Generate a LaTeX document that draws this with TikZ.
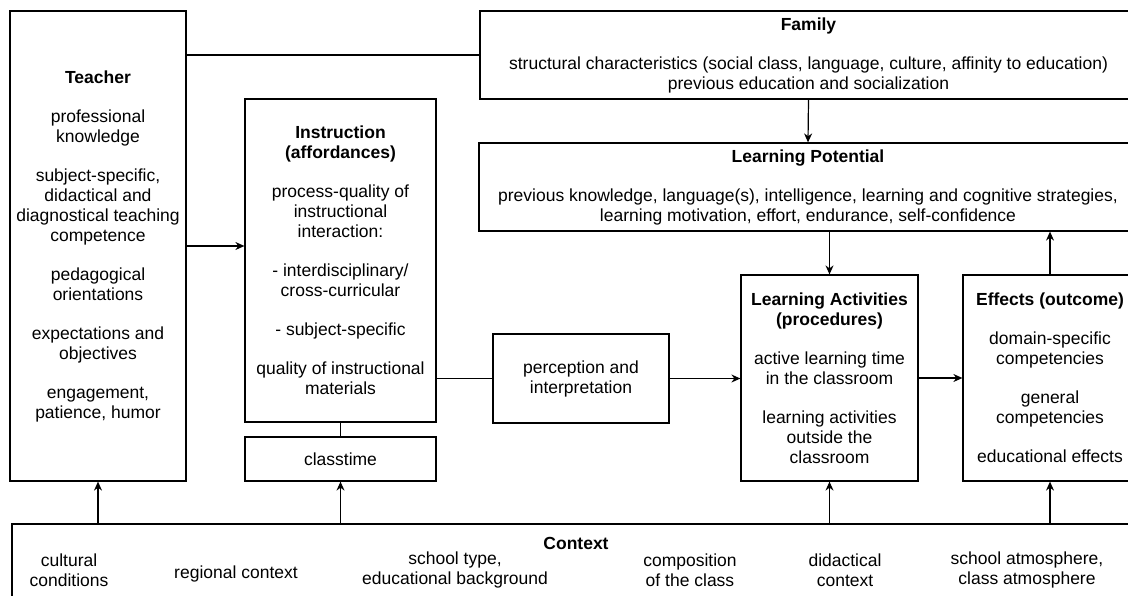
\documentclass[tikz,border=0pt]{standalone}
\usepackage{fontspec}
\setmainfont{Liberation Sans}
\usetikzlibrary{arrows.meta}
\begin{document}
\begin{tikzpicture}[x=1pt,y=-1pt,
  box/.style={draw,line width=1.2pt,inner sep=0pt,align=center,font=\fontsize{17.5}{20}\selectfont},
  arr/.style={line width=1.2pt,-{Stealth[length=9pt,width=8pt]}},
  ln/.style={line width=1.2pt},
  txt/.style={inner sep=0pt,align=center,font=\fontsize{17.5}{20}\selectfont}]
\useasboundingbox (0,0) rectangle (1128,595);
\clip (0,0) rectangle (1128,595);
\node[box,minimum width=176pt,minimum height=470pt] (teacher) at (98,246)
  {\textbf{Teacher}\\[19pt]
   professional\\knowledge\\[19pt]
   subject-specific,\\didactical and\\diagnostical teaching\\competence\\[19pt]
   pedagogical\\orientations\\[19pt]
   expectations and\\objectives\\[19pt]
   engagement,\\patience, humor};
\node[box,minimum width=657pt,minimum height=88pt] (family) at (808.5,55)
  {\textbf{Family}\\[19pt]
   structural characteristics (social class, language, culture, affinity to education)\\
   previous education and socialization};
\node[box,minimum width=658pt,minimum height=88pt] (lp) at (808,187)
  {\textbf{Learning Potential}\\[19pt]
   previous knowledge, language(s), intelligence, learning and cognitive strategies,\\
   learning motivation, effort, endurance, self-confidence};
\node[box,minimum width=191pt,minimum height=323pt] (instr) at (340.5,260.5)
  {\textbf{Instruction}\\\textbf{(affordances)}\\[19pt]
   process-quality of\\instructional\\interaction:\\[19pt]
   - interdisciplinary/\\cross-curricular\\[19pt]
   - subject-specific\\[19pt]
   quality of instructional\\materials};
\node[box,minimum width=191pt,minimum height=44pt] (classtime) at (340.5,459) {classtime};
\node[box,minimum width=176pt,minimum height=89pt] (perc) at (581,378.5)
  {perception and\\interpretation};
\node[box,minimum width=177pt,minimum height=206pt] (la) at (829.5,378)
  {\textbf{Learning Activities}\\\textbf{(procedures)}\\[19pt]
   active learning time\\in the classroom\\[19pt]
   learning activities\\outside the\\classroom};
\node[box,minimum width=174pt,minimum height=206pt] (eff) at (1050,378)
  {\textbf{Effects (outcome)}\\[19pt]
   domain-specific\\competencies\\[19pt]
   general\\competencies\\[19pt]
   educational effects};
\node[draw,line width=1.2pt,inner sep=0pt,minimum width=1128pt,minimum height=96pt] (context) at (576,572) {};
\node[txt] (ctitle) at (576,543) {\textbf{Context}};
\node[txt] (c1) at (69,570) {cultural\\conditions};
\node[txt] (c2) at (236,574) {regional context};
\node[txt] (c3) at (455,570) {school type,\\educational background};
\node[txt] (c4) at (690,570) {composition\\of the class};
\node[txt] (c5) at (845,570) {didactical\\context};
\node[txt] (c6) at (1027,570) {school atmosphere,\\class atmosphere};
% connectors
\draw[ln] (family.west -| teacher.east) -- (family.west);
\draw[arr] (family.south) -- (lp.north);
\draw[arr] (teacher.east) -- (teacher.east -| instr.west);
\draw[ln] (instr.south) -- (classtime.north);
\draw[ln] (perc.west -| instr.east) -- (perc.west);
\draw[arr] (perc.east) -- (perc.east -| la.west);
\draw[arr] (la.east) -- (la.east -| eff.west);
\draw[arr] (la.north |- lp.south) -- (la.north);
\draw[arr] (eff.north) -- (eff.north |- lp.south);
\draw[arr] (teacher.south |- context.north) -- (teacher.south);
\draw[arr] (classtime.south |- context.north) -- (classtime.south);
\draw[arr] (la.south |- context.north) -- (la.south);
\draw[arr] (eff.south |- context.north) -- (eff.south);
\end{tikzpicture}
\end{document}
